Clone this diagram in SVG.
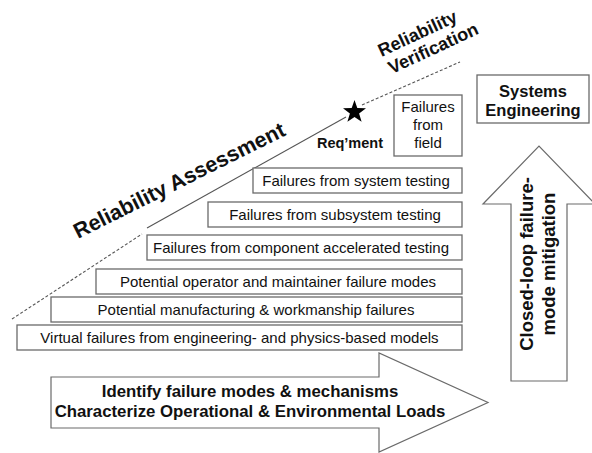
<svg xmlns="http://www.w3.org/2000/svg" width="592" height="453" viewBox="0 0 592 453">
<style>
  .box { fill: #ffffff; stroke: #6a6a6a; stroke-width: 1.3; }
  .arrow { fill: #ffffff; stroke: #6a6a6a; stroke-width: 1.2; }
  .t { font-family: "Liberation Sans", Arial, sans-serif; font-size: 15px; fill: #111; text-anchor: middle; }
  .b { font-family: "Liberation Sans", Arial, sans-serif; font-weight: bold; fill: #111; text-anchor: middle; }
  .dash { fill: none; stroke: #555; stroke-width: 1.1; stroke-dasharray: 3 2; }
  .solid { fill: none; stroke: #555; stroke-width: 1.1; }
</style>
<rect width="592" height="453" fill="#ffffff"/>

<g id="connectors">
  <line class="dash" x1="12" y1="319" x2="142" y2="234"/>
  <line class="solid" x1="147" y1="228" x2="346" y2="117"/>
  <line class="dash" x1="362" y1="105" x2="460" y2="62"/>
</g>

<g id="label-assessment">
  <text class="b" font-size="21.5" transform="translate(78,239) rotate(-26.5)" text-anchor="start" style="text-anchor:start">Reliability Assessment</text>
</g>

<g id="label-verification">
  <g transform="translate(420,39) rotate(-25)">
    <text class="b" font-size="18" x="0" y="0">Reliability</text>
    <text class="b" font-size="18" x="8" y="20">Verification</text>
  </g>
</g>

<g id="star">
  <polygon fill="#000" points="354.5,100 357.3,108.1 366,108.3 359.1,113.5 361.6,121.8 354.5,116.9 347.4,121.8 349.9,113.5 343,108.3 351.7,108.1"/>
  <text class="b" font-size="14.5" x="350" y="148">Req’ment</text>
</g>

<g id="box-field">
  <rect class="box" x="394" y="95" width="68" height="61"/>
  <text class="t" x="428" y="112">Failures</text>
  <text class="t" x="428" y="130">from</text>
  <text class="t" x="428" y="148">field</text>
</g>

<g id="box-system">
  <rect class="box" x="253" y="168" width="209" height="25"/>
  <text class="t" x="356" y="186">Failures from system testing</text>
</g>

<g id="box-subsystem">
  <rect class="box" x="208" y="202" width="254" height="25"/>
  <text class="t" x="335" y="220">Failures from subsystem testing</text>
</g>

<g id="box-component">
  <rect class="box" x="147" y="235" width="315" height="25"/>
  <text class="t" x="301" y="253">Failures from component accelerated testing</text>
</g>

<g id="box-operator">
  <rect class="box" x="96" y="269" width="366" height="25"/>
  <text class="t" x="278" y="287">Potential operator and maintainer failure modes</text>
</g>

<g id="box-manufacturing">
  <rect class="box" x="51" y="297" width="411" height="25"/>
  <text class="t" x="256" y="315">Potential manufacturing &amp; workmanship failures</text>
</g>

<g id="box-virtual">
  <rect class="box" x="17" y="325" width="445" height="25"/>
  <text class="t" x="239.5" y="343">Virtual failures from engineering- and physics-based models</text>
</g>

<g id="arrow-identify">
  <polygon class="arrow" points="51,377 379,377 379,353 488,402.5 379,452 379,428 51,428"/>
  <text class="b" font-size="16.8" x="250" y="397">Identify failure modes &amp; mechanisms</text>
  <text class="b" font-size="16.8" x="250" y="417">Characterize Operational &amp; Environmental Loads</text>
</g>

<g id="box-systems-engineering">
  <rect class="box" x="477" y="75" width="112" height="48"/>
  <text class="b" font-size="16.5" x="533" y="97">Systems</text>
  <text class="b" font-size="16.5" x="533" y="116">Engineering</text>
</g>

<g id="arrow-closed-loop">
  <polygon class="arrow" points="511,381 511,204 483,204 539,146 595,204 567,204 567,381"/>
  <text class="b" font-size="18.5" transform="translate(533,264) rotate(-90)" x="0" y="0">Closed-loop failure-</text>
  <text class="b" font-size="18.5" transform="translate(555,264) rotate(-90)" x="0" y="0">mode mitigation</text>
</g>
</svg>
